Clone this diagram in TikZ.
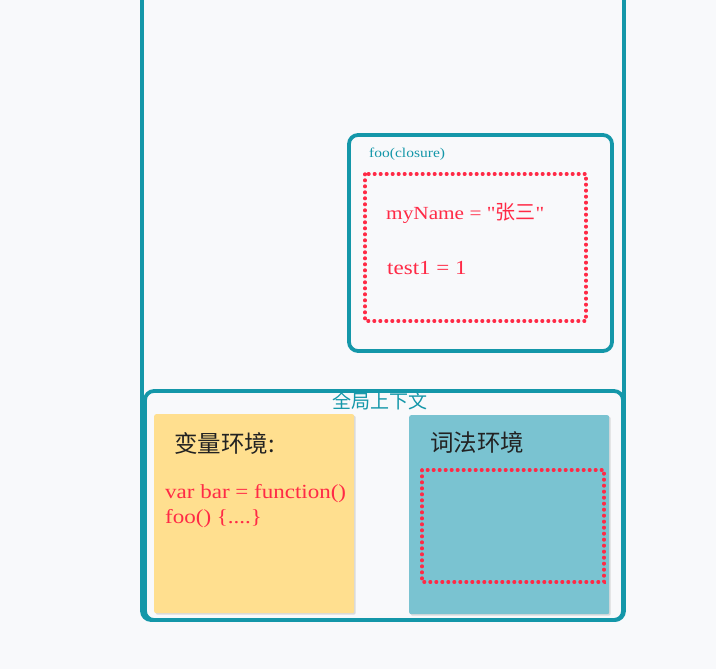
\documentclass[tikz,border=0pt]{standalone}
\usepackage{fontspec}
\setmainfont[FakeStretch=1.15]{Liberation Serif}
\newfontfamily\qfont[FakeStretch=1.15,Ligatures=TeXOff]{Liberation Serif}
\newfontfamily\cjk{Noto Sans CJK SC}
\usetikzlibrary{shadows}
\definecolor{bgc}{HTML}{F8F9FB}
\definecolor{teal1}{HTML}{1497A9}
\definecolor{redc}{HTML}{FF2A46}
\definecolor{yel}{HTML}{FFDF8F}
\definecolor{blu}{HTML}{7AC3D1}
\definecolor{ink}{HTML}{222222}
\newcommand{\sq}{{\qfont\symbol{"22}}}
\tikzset{
  frame/.style={draw=teal1, line width=3.8pt, rounded corners=9pt},
  dotbox/.style={draw=redc, line width=3.4pt, line cap=round, dash pattern=on 0.6pt off 5.4pt},
  card/.style={rounded corners=2pt, drop shadow={shadow xshift=1.5pt, shadow yshift=-1.5pt, opacity=0.25}},
  txt/.style={inner sep=0pt, anchor=west},
}
\begin{document}
\begin{tikzpicture}[x=1pt,y=-1pt]
\fill[bgc] (0,0) rectangle (716,669);
\useasboundingbox (0,0) rectangle (716,669);
% outer execution stack frame (open at top)
\draw[teal1, line width=3.8pt, rounded corners=9pt] (142,-10) -- (142,620) -- (624,620) -- (624,-10);
% closure box
\draw[frame] (349,135) rectangle (612,351);
\node[txt, text=teal1, font=\fontsize{13.5}{15}\selectfont] (fooLbl) at (369,154) {foo(closure)};
\draw[dotbox] (365,174) rectangle (586,321);
\node[txt, text=redc, font=\fontsize{18.5}{20}\selectfont] (myName) at (386,213) {myName = \sq{\cjk\fontsize{20}{22}\selectfont 张三}\sq};
\node[txt, text=redc, font=\fontsize{20}{22}\selectfont] (test1) at (387,268) {test1 = 1};
% global context
\draw[frame] (145,391) rectangle (623,620);
\node[text=teal1, inner sep=0pt, font=\cjk\fontsize{19}{21}\selectfont] (gctx) at (380,401) {全局上下文};
% variable environment
\node[card, fill=yel, minimum width=200pt, minimum height=199pt, anchor=north west] (venv) at (154,414) {};
\node[txt, text=ink, font=\cjk\fontsize{23.5}{25}\selectfont] (venvLbl) at (174,443) {变量环境:};
\node[txt, text=redc, font=\fontsize{20}{22}\selectfont] (vbar) at (165,494) {var bar = function()};
\node[txt, text=redc, font=\fontsize{20}{22}\selectfont] (vfoo) at (165,519) {foo() \{....\}};
% lexical environment
\node[card, fill=blu, minimum width=200pt, minimum height=199pt, anchor=north west] (lenv) at (409,415) {};
\node[txt, text=ink, font=\cjk\fontsize{23.5}{25}\selectfont] (lenvLbl) at (430,443) {词法环境};
\draw[dotbox] (422,470) rectangle (604,582);
\end{tikzpicture}
\end{document}
